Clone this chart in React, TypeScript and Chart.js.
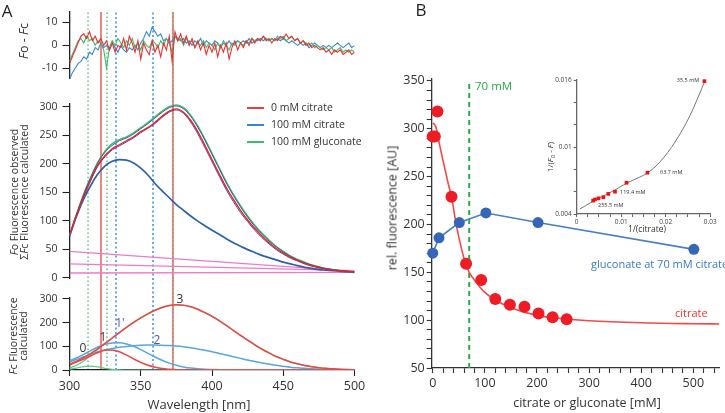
import React, { useEffect, useRef } from 'react';
import { Chart, registerables } from 'chart.js';

Chart.register(...registerables);

const FONT = '"Open Sans", "Noto Sans", "DejaVu Sans", sans-serif';
Chart.defaults.font.family = FONT;
Chart.defaults.color = '#333';

// ---------------- Panel A data ----------------
const residualWavelengths = [
  300, 302, 304, 306, 308, 310, 312, 314, 316, 318, 320, 322, 324, 326, 328, 330, 332, 334, 336, 338,
  340, 342, 344, 346, 348, 350, 352, 354, 356, 358, 360, 362, 364, 366, 368, 370, 372, 374, 376, 378,
  380, 382, 384, 386, 388, 390, 392, 394, 396, 398, 400, 402, 404, 406, 408, 410, 412, 414, 416, 418,
  420, 422, 424, 426, 428, 430, 432, 434, 436, 438, 440, 442, 444, 446, 448, 450, 452, 454, 456, 458,
  460, 462, 464, 466, 468, 470, 472, 474, 476, 478, 480, 482, 484, 486, 488, 490, 492, 494, 496, 498, 500,
];
const residualRed = [
  -8, -5, -2, 1, 4, 5, 3, 6, 2, 4, 1, 3, 0, 2, -2, 1, -3, 0, -1, 3,
  -2, 4, 1, -3, 2, -6, 1, -2, -4, 2, -3, 0, -5, 1, -2, 4, -7, 6, 2, 5,
  1, 4, 0, 3, -1, 2, -2, 1, -4, 0, -3, 1, -5, 0, -3, 1, -6, -1, 2, -2,
  1, -1, 2, 0, 3, 1, 3, 2, 4, 2, 3, 1, 3, 2, 4, 3, 5, 3, 4, 2,
  3, 1, 2, 0, 1, -1, 0, -1, -2, -1, -3, -2, -4, -2, -3, -2, -4, -3, -2, -4, -3,
];
const residualBlue = [
  -15, -12, -10, -8, -7, -5, -6, -3, -4, -1, -2, 1, -1, 0, -2, 1, -1, -3, 0, -2,
  -3, -1, -2, 0, -2, 1, 3, 6, 4, 8, 6, 4, 5, 2, 3, 1, 2, 4, 3, 2,
  3, 1, 2, 0, 2, 1, 3, 0, 2, 1, 0, 2, 1, -1, 1, 0, 2, 0, 1, 2,
  1, 2, 1, 3, 1, 2, 2, 3, 2, 3, 2, 3, 2, 3, 2, 3, 2, 1, 2, 1,
  0, 1, 0, 1, -1, 0, 1, 0, -1, 0, -1, 0, -1, 0, 1, 0, -1, 0, 1, -1, 0,
];
const residualGreen = [
  -7, -4, -1, 2, 3, 1, 4, 2, 3, 0, 2, 1, -2, -10, -1, 2, 0, 3, 1, -1,
  2, 0, 3, -1, 1, -2, 2, 0, -1, 2, 1, -1, 2, 0, 3, 1, -3, 4, 2, 3,
  0, 3, 1, 2, -1, 1, 0, 2, -1, 1, 0, -2, 1, -1, 2, 0, -2, 1, 0, 2,
  1, 0, 2, 1, 3, 2, 3, 2, 4, 3, 2, 3, 2, 4, 3, 4, 2, 3, 4, 2,
  3, 1, 2, 1, 0, 1, -1, 0, -1, -2, -1, -2, -1, -3, -2, -1, -3, -2, -3, -2, -3,
];

const spectrumWavelengths = [
  300, 305, 310, 315, 320, 325, 330, 335, 340, 345, 350, 355, 360, 365, 370, 375, 380, 385, 390, 395,
  400, 405, 410, 415, 420, 425, 430, 435, 440, 445, 450, 455, 460, 465, 470, 475, 480, 485, 490, 495, 500,
];
const observedRed = [75, 110, 143, 172, 198, 214, 226, 233, 240, 247, 256, 263, 272, 283, 292, 296, 290, 276, 256, 232, 207, 182, 158, 137, 118, 101, 86, 73, 61, 51, 43, 36, 30, 25, 21, 18, 15, 13, 12, 11, 10];
const calculatedRed = [74, 109, 142, 171, 196, 212, 224, 231, 238, 245, 254, 262, 270, 281, 290, 294, 288, 273, 252, 228, 203, 178, 154, 133, 114, 98, 83, 70, 59, 49, 41, 34, 29, 24, 20, 17, 15, 13, 12, 11, 10];
const observedGreen = [74, 112, 147, 177, 203, 222, 235, 242, 247, 254, 263, 272, 282, 292, 300, 303, 298, 285, 266, 243, 218, 193, 168, 146, 126, 108, 92, 78, 66, 55, 46, 38, 32, 27, 22, 19, 16, 14, 12, 11, 10];
const calculatedGreen = [73, 111, 146, 176, 202, 220, 232, 240, 245, 252, 261, 270, 280, 290, 298, 301, 296, 283, 264, 241, 216, 191, 166, 144, 124, 106, 90, 76, 64, 54, 45, 37, 31, 26, 22, 18, 16, 14, 12, 11, 10];
const observedBlue = [72, 108, 138, 162, 182, 196, 204, 207, 206, 201, 192, 180, 165, 152, 140, 128, 118, 108, 99, 91, 83, 76, 68, 61, 55, 49, 44, 39, 35, 31, 27, 24, 21, 18, 16, 14, 13, 12, 11, 10, 9];
const baselineWavelengths = [300, 500];
const baselineA = [46, 11];
const baselineB = [24, 12];
const baselineC = [8, 9];

const band3Red = [25, 37, 52, 70, 90, 112, 135, 158, 180, 201, 220, 237, 252, 264, 272, 275, 273, 267, 256, 242, 226, 208, 188, 167, 146, 126, 106, 88, 72, 57, 45, 34, 26, 19, 14, 10, 7, 5, 3, 2, 1];
const band3Green = [8, 20, 38, 62, 88, 112, 135, 158, 180, 201, 220, 237, 252, 264, 272, 275, 273, 267, 256, 242, 226, 208, 188, 167, 146, 126, 106, 88, 72, 57, 45, 34, 26, 19, 14, 10, 7, 5, 3, 2, 1];
const band1Red = [22, 33, 46, 60, 74, 83, 84, 77, 63, 47, 32, 20, 12, 6, 3, 1, 0, 0, 0, 0, 0, 0, 0, 0, 0, 0, 0, 0, 0, 0, 0, 0, 0, 0, 0, 0, 0, 0, 0, 0, 0];
const band1pBlue = [38, 52, 66, 82, 97, 108, 114, 115, 110, 100, 86, 70, 55, 41, 29, 20, 13, 8, 5, 3, 2, 1, 1, 0, 0, 0, 0, 0, 0, 0, 0, 0, 0, 0, 0, 0, 0, 0, 0, 0, 0];
const band2Blue = [35, 45, 56, 67, 77, 85, 91, 96, 99, 102, 104, 105, 105, 104, 103, 101, 98, 94, 89, 83, 77, 70, 63, 56, 49, 42, 36, 30, 25, 20, 16, 12, 9, 7, 5, 4, 3, 2, 1, 1, 0];
const band0Green = [3, 8, 14, 16, 13, 7, 3, 1, 0, 0, 0, 0, 0, 0, 0, 0, 0, 0, 0, 0, 0, 0, 0, 0, 0, 0, 0, 0, 0, 0, 0, 0, 0, 0, 0, 0, 0, 0, 0, 0, 0];

const redMarkers = [322.1, 372.6];
const greenMarkers = [313, 326.3, 372.6];
const blueMarkers = [332.6, 358.6];

const residualTicks = [-10, 0, 10];
const observedTicks = [0, 50, 100, 150, 200, 250, 300];
const componentTicks = [0, 100, 200, 300];
const wavelengthTicks = [300, 350, 400, 450, 500];

const legendLabels = ['0 mM citrate', '100 mM citrate', '100 mM gluconate'];
const legendColors = ['#ef3b3b', '#3a86d0', '#3dbb6e'];

// ---------------- Panel B data ----------------
const citrateConc = [0, 4, 9, 36, 64, 93, 120, 148, 176, 203, 230, 257];
const citrateFluor = [292, 292, 318, 229, 159, 142, 122, 116, 114, 107, 103, 101];
const citrateFitConc = [0, 4, 7, 10, 14, 20, 25, 30, 36, 45, 55, 62, 70, 80, 90, 100, 120, 150, 200, 250, 300, 400, 500, 550];
const citrateFitFluor = [306, 304, 300, 292, 281, 266, 254, 242, 229, 200, 175, 161, 150, 142, 135, 129, 121, 113, 105, 101.5, 99.4, 97.3, 96.3, 96];
const gluconateConc = [0, 12, 51, 102, 202, 501];
const gluconateFluor = [170, 186, 202, 212, 202, 174];
const markerConc = 70;

const concTicks = [0, 20, 40, 60, 80, 100, 120, 140, 160, 180, 200, 220, 240, 260, 280, 300, 320, 340, 360, 380, 400, 420, 440, 460, 480, 500, 520, 540];
const concLabelled = [0, 100, 200, 300, 400, 500];
const fluorTicks = [50, 60, 70, 80, 90, 100, 110, 120, 130, 140, 150, 160, 170, 180, 190, 200, 210, 220, 230, 240, 250, 260, 270, 280, 290, 300, 310, 320, 330, 340, 350];
const fluorLabelled = [50, 100, 150, 200, 250, 300, 350];

const inverseCitrate = [0.0287, 0.0159, 0.0112, 0.0086, 0.0071, 0.006, 0.0049, 0.0041, 0.0037];
const inverseQuench = [0.0159, 0.0077, 0.0068, 0.006, 0.0058, 0.0055, 0.0054, 0.0053, 0.0052];
const inverseFitX = [0.0007, 0.0019, 0.0041, 0.0064, 0.0086, 0.0113, 0.0142, 0.016, 0.0187, 0.0221, 0.0254, 0.0288];
const inverseFitY = [0.00445, 0.00472, 0.00525, 0.0057, 0.00615, 0.00678, 0.00731, 0.0077, 0.00866, 0.01045, 0.01277, 0.0159];
const insetXTicks = [0, 0.0025, 0.005, 0.0075, 0.01, 0.0125, 0.015, 0.0175, 0.02, 0.0225, 0.025, 0.0275, 0.03];
const insetXLabelled = [0, 0.01, 0.02, 0.03];
const insetYTicks = [0.004, 0.006, 0.008, 0.01, 0.012, 0.014, 0.016];
const insetYLabelled = [0.004, 0.01, 0.016];

// ---------------- helpers ----------------
const lineDs = (xs: number[], ys: number[], color: string, width: number, extra: any = {}) => ({
  data: xs.map((x, i) => ({ x, y: ys[i] })),
  borderColor: color,
  backgroundColor: color,
  borderWidth: width,
  pointRadius: 0,
  fill: false,
  tension: 0,
  ...extra,
});

const isIn = (list: number[], v: number) => list.some((m) => Math.abs(m - v) < 1e-9);

const yAxis = (min: number, max: number, ticks: number[], width: number, opts: any = {}) => ({
  type: 'linear',
  position: 'left',
  min,
  max,
  afterBuildTicks: (axis: any) => {
    axis.ticks = ticks.map((v) => ({ value: v }));
  },
  afterFit: (axis: any) => {
    axis.width = width;
  },
  ticks: {
    autoSkip: false,
    font: { size: opts.size ?? 10.5 },
    color: opts.color ?? '#333',
    padding: opts.padding ?? 5,
    callback: (v: number) => (opts.labelled ? (isIn(opts.labelled, v) ? String(v) : '') : String(v)),
  },
  grid: {
    drawOnChartArea: false,
    drawTicks: true,
    tickLength: opts.tickLength ?? 7,
    tickColor: opts.axisColor ?? '#222',
    tickWidth: 1.1,
  },
  border: { display: true, color: opts.axisColor ?? '#222', width: 1.3 },
});

const xAxis = (min: number, max: number, ticks: number[], height: number, opts: any = {}) => ({
  type: 'linear',
  position: 'bottom',
  min,
  max,
  afterBuildTicks: (axis: any) => {
    axis.ticks = ticks.map((v) => ({ value: v }));
  },
  afterFit: (axis: any) => {
    axis.height = height;
  },
  ticks: {
    autoSkip: false,
    maxRotation: 0,
    font: { size: opts.size ?? 12.5 },
    color: opts.color ?? '#333',
    padding: opts.padding ?? 3,
    callback: (v: number) => (opts.labelled ? (isIn(opts.labelled, v) ? String(v) : '') : String(v)),
  },
  grid: {
    drawOnChartArea: false,
    drawTicks: true,
    tickLength: opts.tickLength ?? 6,
    tickColor: opts.axisColor ?? '#222',
    tickWidth: 1.1,
  },
  border: { display: true, color: opts.axisColor ?? '#222', width: 1.3, dash: opts.dash ?? [] },
});

const hiddenX = (min: number, max: number) => ({ type: 'linear', min, max, display: false });

const baseOptions = (padding: any, scales: any) => ({
  responsive: false,
  animation: false,
  devicePixelRatio: 1,
  events: [],
  layout: { padding, autoPadding: false },
  plugins: { legend: { display: false }, tooltip: { enabled: false } },
  scales,
});

// ---------------- chart configs ----------------
const A_PAD_RIGHT = 15.5;
const A_AXIS_W = 69.5;

const markerConfig = () => ({
  type: 'line',
  data: {
    datasets: [
      ...greenMarkers.map((v) => lineDs([v, v], [0, 1], '#47b877', 1.3, { borderDash: [1.5, 2.5] })),
      ...blueMarkers.map((v) => lineDs([v, v], [0, 1], '#3f95e0', 1.6, { borderDash: [2, 2.5] })),
      ...redMarkers.map((v) => lineDs([v, v], [0, 1], 'rgba(240,110,110,0.85)', 2)),
    ],
  },
  options: baseOptions(
    { left: A_AXIS_W, right: A_PAD_RIGHT, top: 12, bottom: 43 },
    { x: hiddenX(300, 500), y: { type: 'linear', min: 0, max: 1, display: false } }
  ),
});

const residualConfig = () => ({
  type: 'line',
  data: {
    datasets: [
      lineDs(residualWavelengths, residualRed, '#ee3030', 1.1),
      lineDs(residualWavelengths, residualGreen, '#3dbb6e', 1.1),
      lineDs(residualWavelengths, residualBlue, '#3a86d0', 1.1),
    ],
  },
  options: baseOptions(
    { left: 0, right: A_PAD_RIGHT, top: 12, bottom: 8 },
    { x: hiddenX(300, 500), y: yAxis(-14.6, 14.6, residualTicks, A_AXIS_W) }
  ),
});

const observedConfig = () => ({
  type: 'line',
  data: {
    datasets: [
      lineDs(spectrumWavelengths, observedRed, '#e8202a', 1.4, { cubicInterpolationMode: 'monotone' }),
      lineDs(spectrumWavelengths, calculatedRed, '#4a5596', 1, { cubicInterpolationMode: 'monotone' }),
      lineDs(spectrumWavelengths, calculatedGreen, '#3d5d98', 1, { cubicInterpolationMode: 'monotone' }),
      lineDs(spectrumWavelengths, observedGreen, '#3dbb6e', 1.4, { cubicInterpolationMode: 'monotone' }),
      lineDs(spectrumWavelengths, observedBlue, '#2e60aa', 1.7, { cubicInterpolationMode: 'monotone' }),
      lineDs(baselineWavelengths, baselineA, '#f07ac8', 1.3),
      lineDs(baselineWavelengths, baselineB, '#f07ac8', 1.3),
      lineDs(baselineWavelengths, baselineC, '#f07ac8', 1.3),
    ],
  },
  options: baseOptions(
    { left: 0, right: A_PAD_RIGHT, top: 13.7, bottom: 8.8 },
    { x: hiddenX(300, 500), y: yAxis(-2, 305, observedTicks, A_AXIS_W) }
  ),
});

const componentConfig = () => ({
  type: 'line',
  data: {
    datasets: [
      lineDs(spectrumWavelengths, band3Red, '#ee4545', 1.5, { cubicInterpolationMode: 'monotone' }),
      lineDs(spectrumWavelengths, band1Red, '#ee4545', 1.5, { cubicInterpolationMode: 'monotone' }),
      lineDs(spectrumWavelengths, band3Green, '#5cc88a', 1.3, { cubicInterpolationMode: 'monotone' }),
      lineDs(spectrumWavelengths, band0Green, '#5cc88a', 1.2, { cubicInterpolationMode: 'monotone' }),
      lineDs(spectrumWavelengths, band1pBlue, '#58a6e0', 1.5, { cubicInterpolationMode: 'monotone' }),
      lineDs(spectrumWavelengths, band2Blue, '#58a6e0', 1.5, { cubicInterpolationMode: 'monotone' }),
    ],
  },
  options: baseOptions(
    { left: 0, right: A_PAD_RIGHT, top: 12.7, bottom: 0 },
    {
      x: xAxis(300, 500, wavelengthTicks, 43),
      y: yAxis(0, 305, componentTicks, A_AXIS_W),
    }
  ),
});

const bindingConfig = () => ({
  type: 'line',
  data: {
    datasets: [
      lineDs(citrateConc, citrateFluor, '#ee1c25', 0, { showLine: false, pointRadius: 6, pointBorderWidth: 0, clip: false }),
      lineDs(gluconateConc, gluconateFluor, '#4a7fc6', 1.6, { pointRadius: 5.5, pointBackgroundColor: '#3566b8', pointBorderWidth: 0, clip: false }),
      lineDs(citrateFitConc, citrateFitFluor, '#f24a4a', 1.6, { cubicInterpolationMode: 'monotone' }),
      lineDs([markerConc, markerConc], [50, 350], '#25ad48', 2, { borderDash: [5, 4] }),
    ],
  },
  options: baseOptions(
    { left: 0, right: 5.6, top: 19, bottom: 0 },
    {
      x: xAxis(-2, 550, concTicks, 45, { labelled: concLabelled, size: 12.5, tickLength: 5, padding: 3, axisColor: '#333' }),
      y: yAxis(50, 352, fluorTicks, 51.7, { labelled: fluorLabelled, size: 12.5, tickLength: 5, padding: 2, axisColor: '#333' }),
    }
  ),
});

const insetConfig = () => ({
  type: 'line',
  data: {
    datasets: [
      lineDs(inverseCitrate, inverseQuench, '#ee1111', 0, { showLine: false, pointRadius: 2.6, pointStyle: 'rect', pointBorderWidth: 0, clip: false }),
      lineDs(inverseFitX, inverseFitY, '#777', 1, { cubicInterpolationMode: 'monotone' }),
    ],
  },
  options: baseOptions(
    { left: 0, right: 14.8, top: 20, bottom: 0 },
    {
      x: xAxis(0, 0.03, insetXTicks, 26, { labelled: insetXLabelled, size: 6.5, tickLength: 3, padding: 1, axisColor: '#666', color: '#444', dash: [3, 2] }),
      y: yAxis(0.004, 0.016, insetYTicks, 36.7, { labelled: insetYLabelled, size: 6.5, tickLength: 3, padding: 2, axisColor: '#666', color: '#444' }),
    }
  ),
});

// ---------------- components ----------------
function ChartBox({ left, top, width, height, make }: { left: number; top: number; width: number; height: number; make: () => any }) {
  const ref = useRef<HTMLCanvasElement>(null);
  useEffect(() => {
    const chart = new Chart(ref.current as HTMLCanvasElement, make());
    return () => chart.destroy();
  }, []);
  return (
    <div style={{ position: 'absolute', left, top, width, height }}>
      <canvas ref={ref} width={width} height={height} style={{ width, height, display: 'block' }} />
    </div>
  );
}

function Label({ x, y, size, color = '#333', anchor = 'left', rotate = false, children, style = {} }: any) {
  let transform = anchor === 'center' ? 'translate(-50%, -50%)' : 'translateY(-50%)';
  if (rotate) transform = 'translate(-50%, -50%) rotate(-90deg)';
  return (
    <div
      style={{
        position: 'absolute',
        left: x,
        top: y,
        transform,
        whiteSpace: 'nowrap',
        fontSize: size,
        color,
        lineHeight: 1.05,
        fontFamily: FONT,
        textAlign: 'center',
        ...style,
      }}
    >
      {children}
    </div>
  );
}

export default function App() {
  return (
    <div style={{ position: 'fixed', left: 0, top: 0, width: 725, height: 413, background: '#fff', overflow: 'hidden', fontFamily: FONT }}>
      <ChartBox left={0} top={0} width={370} height={413} make={markerConfig} />
      <ChartBox left={0} top={0} width={370} height={90} make={residualConfig} />
      <ChartBox left={0} top={90} width={370} height={200} make={observedConfig} />
      <ChartBox left={0} top={285} width={370} height={128} make={componentConfig} />
      <ChartBox left={380} top={60} width={345} height={353} make={bindingConfig} />
      <ChartBox left={540} top={60} width={185} height={180} make={insetConfig} />

      <Label x={7} y={11} size={17} anchor="center" color="#222">A</Label>
      <Label x={421} y={10} size={17} anchor="center" color="#222">B</Label>

      <Label x={24} y={41} size={12.5} rotate>
        <i>F</i>o - <i>F</i>c
      </Label>
      <Label x={19} y={192} size={10.5} rotate style={{ lineHeight: '10px' }}>
        <i>F</i>o Fluorescence observed
        <br />
        Σ<i>F</i>c Fluorescence calculated
      </Label>
      <Label x={18} y={336} size={10.5} rotate style={{ lineHeight: '10px' }}>
        <i>F</i>c Fluorescence
        <br />
        calculated
      </Label>

      {legendLabels.map((t, i) => (
        <React.Fragment key={t}>
          <div style={{ position: 'absolute', left: 247, top: 108 + i * 16.8 - 1, width: 17, height: 2, background: legendColors[i] }} />
          <Label x={271} y={108 + i * 16.8} size={10.5} color="#333">
            {t}
          </Label>
        </React.Fragment>
      ))}

      <Label x={83} y={348} size={12} anchor="center" color="#333">0</Label>
      <Label x={103} y={337} size={12} anchor="center" color="#333">1</Label>
      <Label x={120} y={323} size={12} anchor="center" color="#5a55b0">1'</Label>
      <Label x={157} y={340} size={12} anchor="center" color="#5a55b0">2</Label>
      <Label x={180} y={299} size={12} anchor="center" color="#333">3</Label>
      <Label x={199} y={405} size={13} anchor="center" color="#333">Wavelength [nm]</Label>

      <Label x={475} y={86} size={11.5} color="#25ad48">70 mM</Label>
      <Label x={591} y={264} size={11} color="#3a7ac4">gluconate at 70 mM citrate</Label>
      <Label x={675} y={313} size={11} color="#ee3333">citrate</Label>
      <Label x={392} y={208} size={12.5} rotate color="#333">rel. fluorescence [AU]</Label>
      <Label x={587} y={403} size={12.5} anchor="center" color="#333">citrate or gluconate [mM]</Label>

      <Label x={647} y={229} size={8.5} anchor="center" color="#333">1/(citrate)</Label>
      <Label x={551} y={157} size={8} rotate color="#333">
        1/(<i>F</i>
        <sub style={{ fontSize: 6 }}>0</sub> - <i>F</i>)
      </Label>
      <Label x={688} y={81} size={5.5} anchor="center" color="#333">35.5 mM</Label>
      <Label x={660} y={173} size={5.5} color="#333">63.7 mM</Label>
      <Label x={620} y={193} size={5.5} color="#333">119.4 mM</Label>
      <Label x={598} y={206} size={5.5} color="#333">255.5 mM</Label>
    </div>
  );
}
